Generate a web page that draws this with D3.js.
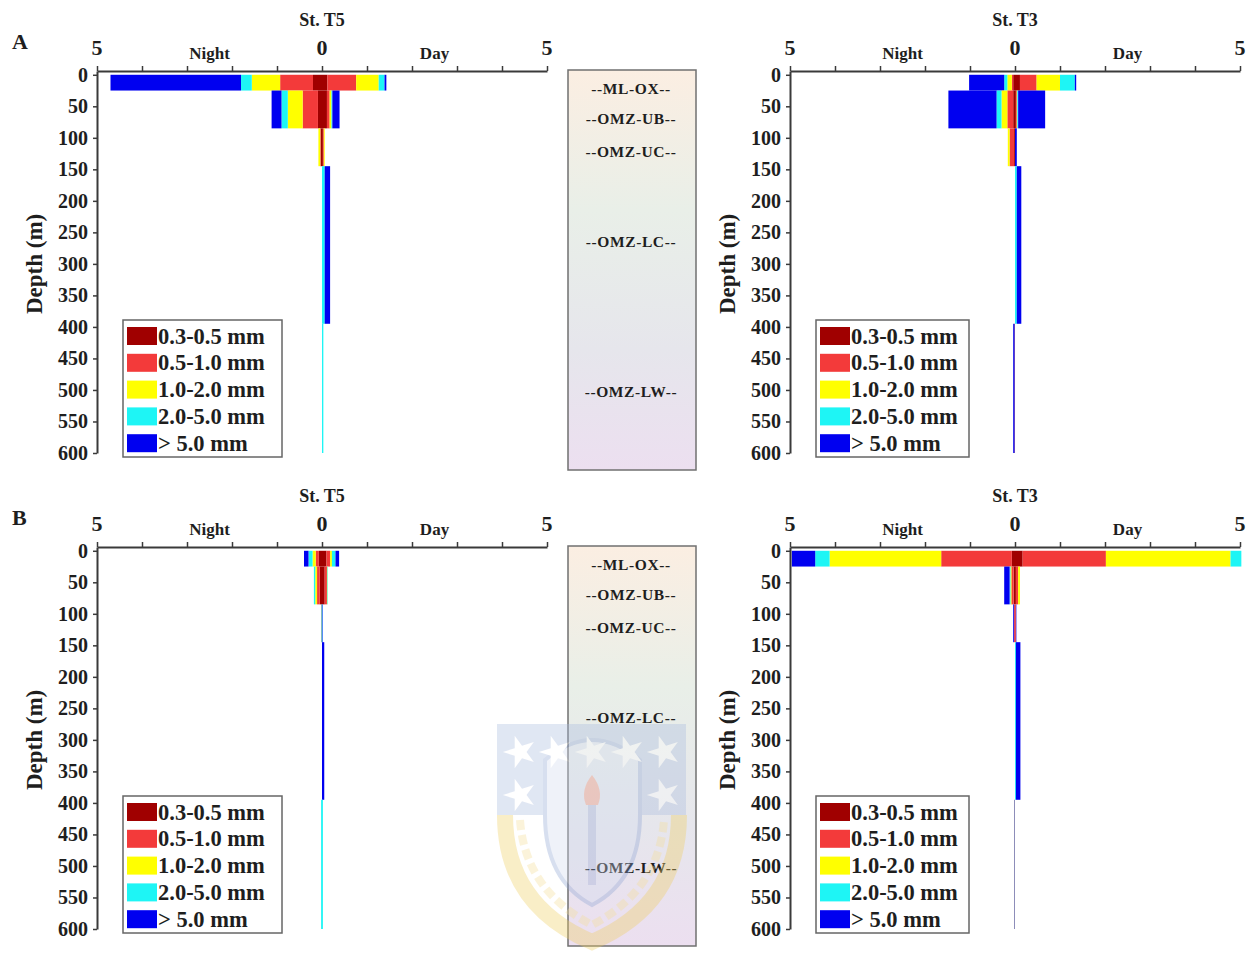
<!DOCTYPE html>
<html>
<head>
<meta charset="utf-8">
<script src="https://cdn.jsdelivr.net/npm/d3@7"></script>
<style>
  body { margin: 0; background: #fff; }
  svg { display: block; }
  text { font-family: "Liberation Serif", "Times New Roman", serif; font-weight: bold; fill: #1e1e1e; }
</style>
</head>
<body>
<svg id="chart" width="1258" height="960"></svg>
<script>
// Depth strata (m) sampled by the net
const depthTop    = [0, 25, 85, 145, 395];
const depthBottom = [25, 85, 145, 395, 600];

// Size classes and their colours (inner to outer in each stack)
const sizeClasses = ["0.3-0.5 mm", "0.5-1.0 mm", "1.0-2.0 mm", "2.0-5.0 mm", "> 5.0 mm"];
const classColors = ["#a00000", "#f33a3a", "#ffff00", "#1ef5f5", "#0000f0"];

// Axis ticks
const depthTicks = [0, 50, 100, 150, 200, 250, 300, 350, 400, 450, 500, 550, 600];
const abundanceTicks = [-5, -4, -3, -2, -1, 0, 1, 2, 3, 4, 5];
const abundanceLabels = ["5", "0", "5"];
const abundanceLabelValues = [-5, 0, 5];

// Oxygen zones
const zoneLabels = ["--ML-OX--", "--OMZ-UB--", "--OMZ-UC--", "--OMZ-LC--", "--OMZ-LW--"];
const zoneDepths = [21, 70, 121, 264, 502];

// Rows = strata, columns = size classes
// A, St. T5
const aT5Night = [
  [0.20, 0.73, 0.63, 0.24, 2.90],
  [0.09, 0.34, 0.33, 0.14, 0.22],
  [0.03, 0.01, 0.04, 0.00, 0.00],
  [0.00, 0.00, 0.00, 0.00, 0.00],
  [0.00, 0.00, 0.00, 0.00, 0.00]
];
const aT5Day = [
  [0.12, 0.64, 0.50, 0.13, 0.04],
  [0.11, 0.06, 0.04, 0.02, 0.16],
  [0.02, 0.02, 0.02, 0.00, 0.00],
  [0.00, 0.00, 0.00, 0.06, 0.12],
  [0.00, 0.00, 0.00, 0.03, 0.00]
];
// A, St. T3
const aT3Night = [
  [0.04, 0.03, 0.10, 0.07, 0.78],
  [0.04, 0.13, 0.13, 0.11, 1.07],
  [0.02, 0.10, 0.04, 0.00, 0.00],
  [0.00, 0.00, 0.00, 0.00, 0.00],
  [0.01, 0.00, 0.00, 0.00, 0.03]
];
const aT3Day = [
  [0.11, 0.37, 0.52, 0.33, 0.03],
  [0.02, 0.02, 0.01, 0.02, 0.60],
  [0.00, 0.00, 0.00, 0.00, 0.04],
  [0.00, 0.00, 0.00, 0.04, 0.10],
  [0.00, 0.00, 0.00, 0.00, 0.00]
];
// B, St. T5
const bT5Night = [
  [0.07, 0.07, 0.07, 0.09, 0.10],
  [0.05, 0.06, 0.04, 0.03, 0.00],
  [0.01, 0.00, 0.00, 0.01, 0.00],
  [0.00, 0.00, 0.00, 0.00, 0.00],
  [0.00, 0.00, 0.00, 0.02, 0.00]
];
const bT5Day = [
  [0.10, 0.08, 0.04, 0.08, 0.08],
  [0.06, 0.05, 0.01, 0.01, 0.00],
  [0.00, 0.00, 0.00, 0.01, 0.01],
  [0.00, 0.00, 0.00, 0.00, 0.05],
  [0.00, 0.00, 0.00, 0.02, 0.00]
];
// B, St. T3
const bT3Night = [
  [0.07, 1.57, 2.48, 0.32, 0.52],
  [0.03, 0.05, 0.02, 0.02, 0.12],
  [0.00, 0.02, 0.00, 0.00, 0.02],
  [0.00, 0.00, 0.00, 0.00, 0.00],
  [0.00, 0.00, 0.01, 0.00, 0.01]
];
const bT3Day = [
  [0.17, 1.85, 2.77, 0.24, 0.00],
  [0.02, 0.05, 0.04, 0.00, 0.00],
  [0.00, 0.02, 0.00, 0.00, 0.01],
  [0.00, 0.00, 0.00, 0.02, 0.10],
  [0.00, 0.00, 0.00, 0.00, 0.00]
];

const svg = d3.select("#chart");

// Panel layout
const rowTops = [71, 547];
const colLefts = [97, 790];
const plotW = 450, plotH = 382;
const panels = [
  { row: 0, col: 0, station: "St. T5", night: aT5Night, day: aT5Day },
  { row: 0, col: 1, station: "St. T3", night: aT3Night, day: aT3Day },
  { row: 1, col: 0, station: "St. T5", night: bT5Night, day: bT5Day },
  { row: 1, col: 1, station: "St. T3", night: bT3Night, day: bT3Day }
];
const panelLetters = ["A", "B"];

panels.forEach(p => {
  const left = colLefts[p.col], top = rowTops[p.row];
  const x = d3.scaleLinear().domain([-5, 5]).range([left, left + plotW]);
  const y = d3.scaleLinear().domain([-6, 600]).range([top, top + plotH]);
  const g = svg.append("g");

  // Stacked bars: night to the left of zero, day to the right
  depthTop.forEach((d0, i) => {
    const d1 = depthBottom[i];
    let cum = 0;
    p.night[i].forEach((v, k) => {
      if (v > 0) {
        g.append("rect")
          .attr("x", x(-(cum + v))).attr("width", x(-cum) - x(-(cum + v)))
          .attr("y", y(d0)).attr("height", y(d1) - y(d0))
          .attr("fill", classColors[k]);
      }
      cum += v;
    });
    cum = 0;
    p.day[i].forEach((v, k) => {
      if (v > 0) {
        g.append("rect")
          .attr("x", x(cum)).attr("width", x(cum + v) - x(cum))
          .attr("y", y(d0)).attr("height", y(d1) - y(d0))
          .attr("fill", classColors[k]);
      }
      cum += v;
    });
  });

  // Top abundance axis
  const xAxis = d3.axisTop(x).tickValues(abundanceTicks).tickSize(5).tickSizeOuter(0).tickFormat("");
  const gx = g.append("g").attr("transform", `translate(0,${top})`).call(xAxis);
  gx.select(".domain").attr("stroke", "#3a3a3a").attr("stroke-width", 2);
  gx.selectAll(".tick line").attr("stroke", "#3a3a3a").attr("stroke-width", 1.5);

  abundanceLabelValues.forEach((v, i) => {
    g.append("text").attr("x", x(v)).attr("y", top - 16)
      .attr("text-anchor", "middle").attr("font-size", 22).text(abundanceLabels[i]);
  });
  g.append("text").attr("x", x(-2.5)).attr("y", top - 12)
    .attr("text-anchor", "middle").attr("font-size", 17).text("Night");
  g.append("text").attr("x", x(2.5)).attr("y", top - 12)
    .attr("text-anchor", "middle").attr("font-size", 17).text("Day");
  g.append("text").attr("x", x(0)).attr("y", top - 45)
    .attr("text-anchor", "middle").attr("font-size", 18).text(p.station);

  // Depth axis
  const yAxis = d3.axisLeft(y).tickValues(depthTicks).tickSize(4).tickSizeOuter(0).tickPadding(5);
  const gy = g.append("g").attr("transform", `translate(${left},0)`).call(yAxis);
  gy.select(".domain").attr("stroke", "#3a3a3a").attr("stroke-width", 2);
  gy.selectAll(".tick line").attr("stroke", "#3a3a3a").attr("stroke-width", 1.5);
  gy.selectAll(".tick text")
    .attr("font-family", "Liberation Serif, Times New Roman, serif")
    .attr("font-weight", "bold").attr("font-size", 20).attr("fill", "#1e1e1e");

  g.append("text")
    .attr("transform", `translate(${left - 60},${y(300)}) rotate(-90)`)
    .attr("text-anchor", "middle").attr("dominant-baseline", "middle")
    .attr("font-size", 23).text("Depth (m)");

  // Legend
  const lx = left + 26, ly = top + 249;
  const lg = g.append("g");
  lg.append("rect").attr("x", lx).attr("y", ly).attr("width", p.col === 0 ? 159 : 153).attr("height", 137)
    .attr("fill", "#fff").attr("stroke", "#666").attr("stroke-width", 1.5);
  sizeClasses.forEach((s, k) => {
    const cy = ly + 16 + k * 26.8;
    lg.append("rect").attr("x", lx + 4).attr("y", cy - 9).attr("width", 30).attr("height", 18)
      .attr("fill", classColors[k]);
    lg.append("text").attr("x", lx + 35).attr("y", cy).attr("dominant-baseline", "central")
      .attr("font-size", 22.5).text(s);
  });
});

// Panel letters
rowTops.forEach((t, r) => {
  svg.append("text").attr("x", 12).attr("y", t - 22).attr("font-size", 22).text(panelLetters[r]);
});

// Oxygen-zone column between the stations
const defs = svg.append("defs");
const grad = defs.append("linearGradient").attr("id", "zoneGrad")
  .attr("x1", 0).attr("y1", 0).attr("x2", 0).attr("y2", 1);
[["0%", "#fbeee2"], ["35%", "#e9efe8"], ["70%", "#e6e6ec"], ["100%", "#ecdff0"]].forEach(s =>
  grad.append("stop").attr("offset", s[0]).attr("stop-color", s[1]));

rowTops.forEach(t => {
  const y = d3.scaleLinear().domain([-6, 600]).range([t, t + plotH]);
  svg.append("rect").attr("x", 568).attr("y", t - 1).attr("width", 128).attr("height", 400)
    .attr("fill", "url(#zoneGrad)").attr("stroke", "#707070").attr("stroke-width", 1.5);
  zoneLabels.forEach((z, i) => {
    svg.append("text").attr("x", 631).attr("y", y(zoneDepths[i]))
      .attr("text-anchor", "middle").attr("dominant-baseline", "central")
      .attr("font-size", 15.5).attr("letter-spacing", 0.6).text(z);
  });
});

// Faint university emblem laid over the lower half
(function drawEmblem() {
  const g = svg.append("g").attr("opacity", 0.35);
  g.append("path")
    .attr("d", "M497,724 L686,724 L686,815 L497,815 Z")
    .attr("fill", "#a9bbdf");
  g.append("path")
    .attr("d", "M545,815 L545,760 Q592,720 640,760 L640,815 Q640,880 592,905 Q545,880 545,815 Z")
    .attr("fill", "#d3dcef").attr("stroke", "#8ea4d4").attr("stroke-width", 4);
  const star = d3.symbol().type(d3.symbolStar).size(330);
  [[520,752],[556,752],[592,752],[628,752],[664,752],[520,795],[664,795]].forEach(p => {
    g.append("path").attr("d", star()).attr("transform", `translate(${p[0]},${p[1]}) rotate(-18)`)
      .attr("fill", "#ffffff");
  });
  g.append("rect").attr("x", 588).attr("y", 805).attr("width", 8).attr("height", 80).attr("fill", "#9aaad6");
  g.append("path").attr("d", "M592,775 Q604,790 598,805 L586,805 Q580,790 592,775 Z").attr("fill", "#ee8a70");
  g.append("path").attr("d", "M505,815 Q505,905 592,942 Q679,905 679,815")
    .attr("fill", "none").attr("stroke", "#f0cf60").attr("stroke-width", 16);
  g.append("path").attr("d", "M520,820 Q525,890 592,925 Q659,890 664,820")
    .attr("fill", "none").attr("stroke", "#f5df98").attr("stroke-width", 8).attr("stroke-dasharray", "10,5");
})();
</script>
</body>
</html>
